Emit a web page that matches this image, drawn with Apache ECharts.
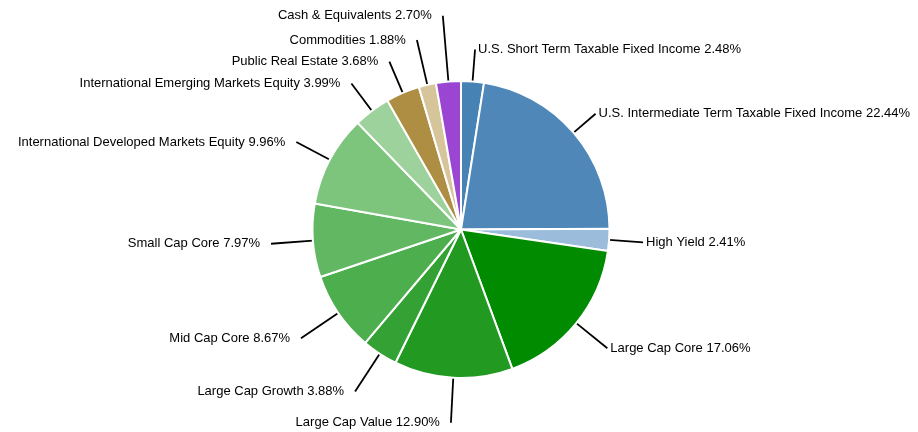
<!DOCTYPE html>
<html>
<head>
<meta charset="utf-8">
<script src="https://cdn.jsdelivr.net/npm/echarts@6/dist/echarts.min.js"></script>
<style>
html,body{margin:0;padding:0;background:#fff;}
#chart{width:918px;height:432px;}
</style>
</head>
<body>
<div id="chart"></div>
<script>
const categories = [
  "U.S. Short Term Taxable Fixed Income",
  "U.S. Intermediate Term Taxable Fixed Income",
  "High Yield",
  "Large Cap Core",
  "Large Cap Value",
  "Large Cap Growth",
  "Mid Cap Core",
  "Small Cap Core",
  "International Developed Markets Equity",
  "International Emerging Markets Equity",
  "Public Real Estate",
  "Commodities",
  "Cash & Equivalents"
];
const values = [2.48, 22.44, 2.41, 17.06, 12.90, 3.88, 8.67, 7.97, 9.96, 3.99, 3.68, 1.88, 2.70];
const colors = ["#4682B4", "#4F87B9", "#9BBDDB", "#008B00", "#229A22", "#33A133", "#4CAE4C", "#62B862", "#7DC47D", "#9DD29D", "#AD8E42", "#D6C59B", "#9B45D3"];
const lineLengths = [32, 29, 34, 40, 45, 45, 45, 42, 38, 34, 34, 46, 66];

const chart = echarts.init(document.getElementById('chart'), null, {renderer: 'canvas'});
const data = categories.map((name, i) => ({
  name: name,
  value: values[i],
  itemStyle: {color: colors[i]},
  labelLine: {length: lineLengths[i], length2: 0}
}));
chart.setOption({
  animation: false,
  series: [{
    type: 'pie',
    center: [461, 229.5],
    radius: [0, 148.5],
    startAngle: 90,
    clockwise: true,
    avoidLabelOverlap: false,
    data: data,
    itemStyle: {borderColor: '#ffffff', borderWidth: 2},
    label: {
      show: true,
      formatter: p => p.name + ' ' + p.value.toFixed(2) + '%',
      fontFamily: '"Liberation Sans", Arial, sans-serif',
      fontSize: 13,
      color: '#000',
      distanceToLabelLine: 3,
      padding: [0, 8, 0, 0]
    },
    labelLine: {
      show: true,
      length2: 0,
      minTurnAngle: 0,
      maxSurfaceAngle: 180,
      lineStyle: {color: '#000', width: 1.8}
    },
    emphasis: {disabled: true}
  }]
});
</script>
</body>
</html>
